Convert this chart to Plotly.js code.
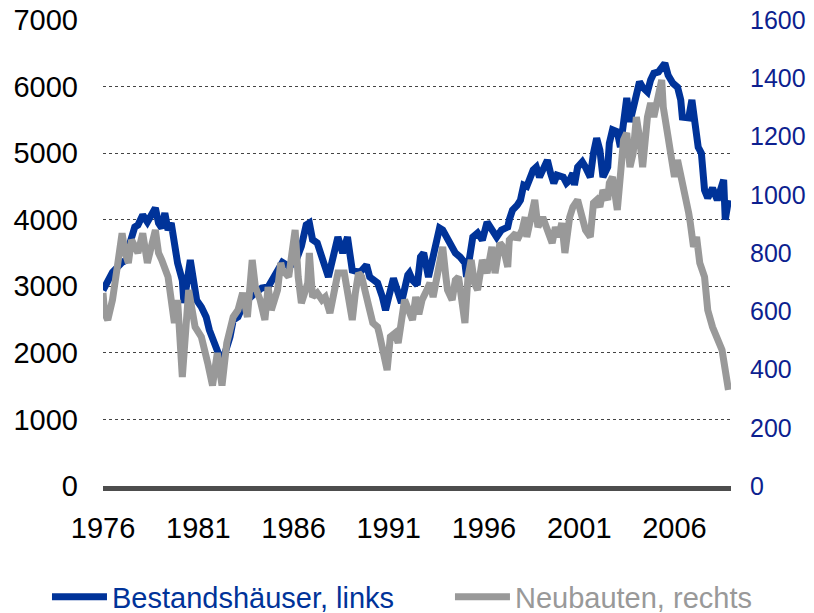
<!DOCTYPE html>
<html>
<head>
<meta charset="utf-8">
<script src="https://cdn.plot.ly/plotly-3.0.1.min.js"></script>
<style>
html,body{margin:0;padding:0;background:#fff;}
#chart{width:814px;height:613px;}
</style>
</head>
<body>
<div id="chart"></div>
<script>
// Bestandshäuser (left axis)
const blueDates = [
 '1976-01','1976-04','1976-07',
 '1977-01','1977-04','1977-06','1977-09','1977-11',
 '1978-02','1978-05','1978-10','1978-12',
 '1979-02','1979-04','1979-06','1979-08','1979-10','1979-12',
 '1980-03','1980-04','1980-08','1980-10','1980-12',
 '1981-03','1981-06','1981-08',
 '1982-01','1982-04','1982-09','1982-11',
 '1983-02','1983-06',
 '1984-01','1984-05','1984-09',
 '1985-01','1985-06','1985-10',
 '1986-02','1986-06','1986-09','1986-11',
 '1987-01','1987-04','1987-08','1987-11',
 '1988-05','1988-08','1988-11',
 '1989-02','1989-07','1989-11',
 '1990-01','1990-06','1990-09','1990-11',
 '1991-01','1991-04','1991-07','1991-09',
 '1992-01','1992-02','1992-04','1992-07','1992-09','1992-11',
 '1993-02','1993-05','1993-09','1993-11',
 '1994-02','1994-07','1994-10',
 '1995-01','1995-02','1995-04','1995-06','1995-09','1995-12',
 '1996-03','1996-06','1996-09','1996-12',
 '1997-04','1997-05','1997-07','1997-10','1997-12',
 '1998-02','1998-04','1998-08','1998-10','1998-12',
 '1999-05','1999-07','1999-09','1999-11',
 '2000-03','2000-05','2000-07','2000-09','2000-10','2000-12',
 '2001-03','2001-05','2001-08','2001-10','2001-12',
 '2002-02','2002-04','2002-07','2002-08','2002-10',
 '2003-01','2003-03','2003-05','2003-07','2003-09','2003-12',
 '2004-03','2004-05','2004-08','2004-10','2004-12',
 '2005-03','2005-05','2005-07','2005-09','2005-12',
 '2006-03','2006-05','2006-06','2006-10','2006-12',
 '2007-02','2007-04','2007-06','2007-08','2007-10',
 '2008-01','2008-04','2008-08','2008-09','2008-11'
];
const blueValues = [
 2940,3090,3210,
 3360,3395,3650,3890,3920,
 4070,3965,4175,3950,
 3875,4100,3845,3950,3590,3350,
 3090,2750,3395,3090,2790,
 2690,2540,2345,
 2040,1850,2240,2490,
 2540,2750,
 2900,2975,2990,
 3170,3360,3300,
 3350,3600,3920,3950,
 3700,3650,3390,3140,
 3740,3500,3740,
 3240,3210,3320,
 3140,3050,2840,2640,
 2840,3120,2900,2750,
 3170,3200,3090,3020,3440,3500,
 3140,3440,3875,3845,
 3695,3500,3440,
 3350,3140,3545,3740,3800,3695,
 3965,3845,3740,3845,
 3890,4000,4145,4220,4295,
 4520,4500,4745,4790,4640,
 4895,4700,4550,4670,
 4640,4550,4595,4700,4520,4790,
 4870,4790,4640,5000,5225,
 5045,4640,4790,5150,5350,
 5320,5090,5600,5830,5470,5800,
 6070,5990,5920,6100,6200,
 6220,6290,6350,6170,6050,
 5990,5800,5540,5530,5800,
 5390,5090,5000,4445,4325,
 4475,4295,4600,4000,4295
];

// Neubauten (right axis)
const greyDates = [
 '1976-01','1976-02','1976-04','1976-07','1976-10',
 '1977-01','1977-03','1977-05','1977-07','1977-11',
 '1978-02','1978-03','1978-05','1978-10','1978-12',
 '1979-02','1979-06','1979-10','1979-12',
 '1980-03','1980-07','1980-11',
 '1981-03','1981-07','1981-10',
 '1982-01','1982-04','1982-07','1982-09','1982-11',
 '1983-02','1983-05','1983-08','1983-11',
 '1984-01','1984-04','1984-07','1984-09','1984-11',
 '1985-03','1985-05','1985-06','1985-10',
 '1986-02','1986-04','1986-06','1986-10','1986-11',
 '1987-01','1987-04','1987-07','1987-09','1987-12',
 '1988-05','1988-09','1988-11',
 '1989-02','1989-04','1989-06','1989-08','1989-10',
 '1990-01','1990-03','1990-06','1990-07','1990-09','1990-12',
 '1991-02','1991-05','1991-07','1991-11',
 '1992-04','1992-06','1992-08','1992-10',
 '1993-01','1993-03','1993-05','1993-08','1993-11',
 '1994-01','1994-02','1994-05','1994-07','1994-09','1994-11',
 '1995-01','1995-03','1995-05','1995-07','1995-09','1995-12',
 '1996-03','1996-06','1996-08','1996-11',
 '1997-01','1997-04','1997-05','1997-09','1997-10',
 '1998-01','1998-03','1998-04','1998-09','1998-11',
 '1999-02','1999-05','1999-08','1999-10','1999-12',
 '2000-02','2000-04','2000-07','2000-09','2000-12',
 '2001-02','2001-05','2001-08','2001-10','2001-12',
 '2002-02','2002-04','2002-07','2002-08','2002-10',
 '2003-01','2003-03','2003-05','2003-07','2003-09','2003-11',
 '2004-01','2004-03','2004-05','2004-08','2004-10','2004-12',
 '2005-02','2005-04','2005-05','2005-06','2005-08','2005-09','2005-11',
 '2006-01','2006-03','2006-06','2006-08','2006-10','2006-11',
 '2007-01','2007-03','2007-05','2007-08','2007-10',
 '2008-01','2008-04','2008-07','2008-09','2008-11'
];
const greyValues = [
 663,594,570,639,752,
 868,800,766,845,800,
 868,834,766,879,800,
 776,718,560,639,
 374,673,546,
 512,422,345,
 457,345,491,546,580,
 604,663,580,776,
 683,639,570,683,604,
 673,766,742,718,
 879,718,628,697,800,
 649,663,639,649,594,
 731,731,673,
 570,663,731,718,663,
 604,560,546,525,467,398,
 512,525,491,639,
 570,649,590,639,
 673,697,649,731,821,
 718,673,639,707,718,615,
 560,718,776,697,673,776,
 731,821,731,834,
 821,752,845,868,845,
 879,923,855,982,889,
 923,879,834,889,855,
 903,800,923,958,982,
 937,879,855,972,982,
 958,1016,982,1040,1061,
 948,1100,1188,1212,1095,1143,
 1267,1198,1095,1267,1315,1267,
 1325,1383,1394,1300,1246,1198,1129,
 1061,1119,1050,982,937,903,
 821,855,766,718,604,
 546,501,467,398,330
];

const tickYears = ['1976','1981','1986','1991','1996','2001','2006'];
const leftTicks = [0,1000,2000,3000,4000,5000,6000,7000];
const rightTicks = [0,200,400,600,800,1000,1200,1400,1600];

const blueColor = '#003399';
const greyColor = '#999999';
const font = 'Liberation Sans, Arial, Helvetica, sans-serif';

const traces = [
  {
    x: blueDates, y: blueValues, type: 'scatter', mode: 'lines', yaxis: 'y',
    name: '<span style="color:' + blueColor + '">Bestandshäuser, links</span>',
    line: {color: blueColor, width: 7, shape: 'linear'},
    legend: 'legend',
    hoverinfo: 'skip'
  },
  {
    x: greyDates, y: greyValues, type: 'scatter', mode: 'lines', yaxis: 'y2',
    name: '<span style="color:' + greyColor + '">Neubauten, rechts</span>',
    line: {color: greyColor, width: 7, shape: 'linear'},
    legend: 'legend2',
    hoverinfo: 'skip'
  }
];

const legendCommon = {
  orientation: 'h', xanchor: 'left', y: -0.238, yanchor: 'middle',
  font: {family: font, size: 29},
  itemwidth: 55,
  bgcolor: 'rgba(0,0,0,0)', itemclick: false, itemdoubleclick: false
};

const layout = {
  width: 814, height: 613,
  margin: {l: 103, r: 83, t: 20, b: 127, pad: 0, autoexpand: false},
  paper_bgcolor: '#ffffff', plot_bgcolor: '#ffffff',
  font: {family: font, size: 29, color: '#000000'},
  showlegend: true,
  legend: Object.assign({}, legendCommon, {x: -0.0892}),
  legend2: Object.assign({}, legendCommon, {x: 0.5525}),
  xaxis: {
    type: 'date',
    range: ['1976-01-01', '2008-12-20'],
    tickmode: 'array',
    tickvals: tickYears.map(y => y + '-01-01'),
    ticktext: tickYears,
    ticks: '', showgrid: false, zeroline: false,
    showline: true, linecolor: '#4d4d4d', linewidth: 5,
    tickfont: {family: font, size: 29, color: '#000000'},
    ticklabelstandoff: 12,
    fixedrange: true
  },
  yaxis: {
    range: [0, 7000],
    tickmode: 'array', tickvals: leftTicks,
    showgrid: true, gridcolor: '#444444', gridwidth: 1, griddash: 'dot',
    zeroline: false, showline: false, ticks: '',
    tickfont: {family: font, size: 29, color: '#000000'},
    ticklabelstandoff: 24,
    fixedrange: true
  },
  yaxis2: {
    range: [0, 1600], overlaying: 'y', side: 'right',
    tickmode: 'array', tickvals: rightTicks,
    showgrid: false, zeroline: false, showline: false, ticks: '',
    tickfont: {family: font, size: 25, color: '#0d1f8f'},
    ticklabelstandoff: 18,
    fixedrange: true
  },
  hovermode: false
};

Plotly.newPlot('chart', traces, layout, {displayModeBar: false, staticPlot: true});
</script>
</body>
</html>
